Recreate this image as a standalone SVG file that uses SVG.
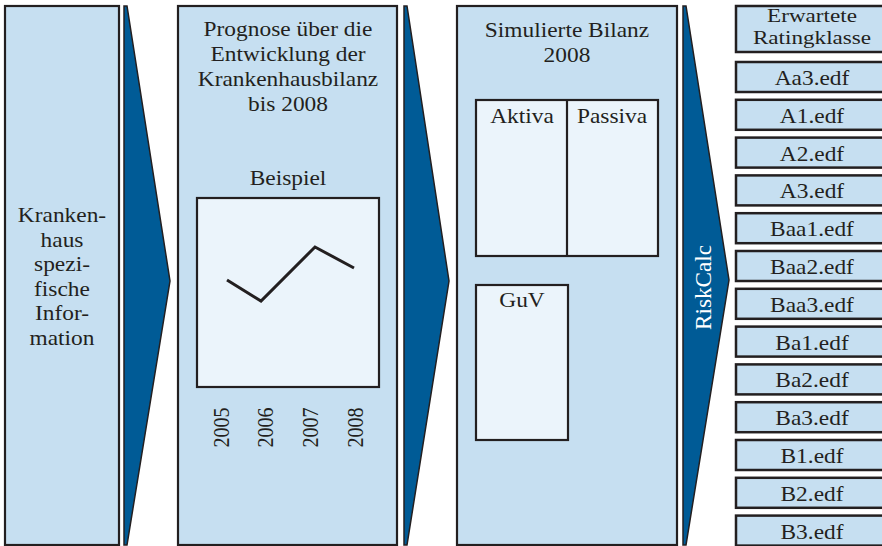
<svg xmlns="http://www.w3.org/2000/svg" width="882" height="546" viewBox="0 0 882 546">
<style>
.panel{fill:#c6dff1;stroke:#231f20;stroke-width:2.2}
.inner{fill:#ebf4fb;stroke:#231f20;stroke-width:2.2}
.arrow{fill:#005b96;stroke:#231f20;stroke-width:1.5;stroke-linejoin:miter}
.box{fill:#c6dff1;stroke:#231f20;stroke-width:2.5}
text{font-family:"Liberation Serif","Times New Roman",serif;font-size:20px;fill:#231f20;text-anchor:middle}
.w{fill:#ffffff}
.hd{font-size:18.5px}
</style>
<rect width="882" height="546" fill="#ffffff"/>
<g id="connectors">
<polygon class="arrow" points="124,6 127,6 170,281 127,545 124,545"/>
<polygon class="arrow" points="404,6 407,6 449,281 407,545 404,545"/>
<g id="riskcalc">
<polygon class="arrow" points="683,6 686,6 729,280 686,545 683,545"/>
<text class="w" transform="translate(711,287.5) scale(1.17,1) rotate(-90)" textLength="85" lengthAdjust="spacingAndGlyphs">RiskCalc</text>
</g>
</g>
<g id="panel1">
<rect class="panel" x="5" y="6" width="114" height="539"/>
<text transform="translate(62,222) scale(1.17,1)">Kranken-</text>
<text transform="translate(62,246.5) scale(1.17,1)">haus</text>
<text transform="translate(62,271) scale(1.17,1)">spezi-</text>
<text transform="translate(62,295.5) scale(1.17,1)">fische</text>
<text transform="translate(62,320) scale(1.17,1)">Infor-</text>
<text transform="translate(62,344.5) scale(1.17,1)">mation</text>
</g>
<g id="panel2">
<rect class="panel" x="178" y="6" width="219" height="539"/>
<text transform="translate(288,36) scale(1.17,1)">Prognose über die</text>
<text transform="translate(288,61) scale(1.17,1)">Entwicklung der</text>
<text transform="translate(288,86) scale(1.17,1)">Krankenhausbilanz</text>
<text transform="translate(288,111) scale(1.17,1)">bis 2008</text>
<text transform="translate(288,185) scale(1.17,1)">Beispiel</text>
<rect class="inner" x="197" y="198" width="182" height="189"/>
<polyline points="227,280 261,301 315,247 354,268" fill="none" stroke="#231f20" stroke-width="3"/>
<text transform="translate(229,427.5) scale(1.2,1) rotate(-90)">2005</text>
<text transform="translate(273,427.5) scale(1.2,1) rotate(-90)">2006</text>
<text transform="translate(318,427.5) scale(1.2,1) rotate(-90)">2007</text>
<text transform="translate(363,427.5) scale(1.2,1) rotate(-90)">2008</text>
</g>
<g id="panel3">
<rect class="panel" x="457" y="6" width="220" height="539"/>
<text transform="translate(567,37) scale(1.17,1)">Simulierte Bilanz</text>
<text transform="translate(567,62) scale(1.17,1)">2008</text>
<rect class="inner" x="476" y="100" width="182" height="156"/>
<line x1="567" y1="100" x2="567" y2="256" stroke="#231f20" stroke-width="2.2"/>
<text transform="translate(522,123) scale(1.17,1)">Aktiva</text>
<text transform="translate(612,123) scale(1.17,1)">Passiva</text>
<rect class="inner" x="476" y="285" width="92" height="155"/>
<text transform="translate(522,307) scale(1.17,1)">GuV</text>
</g>
<g id="header">
<rect class="box" x="736" y="6" width="160" height="46"/>
<text class="hd" transform="translate(812,22) scale(1.25,1)">Erwartete</text>
<text class="hd" transform="translate(812,44) scale(1.25,1)">Ratingklasse</text>
</g>
<g id="r-aa3"><rect class="box" x="736" y="62" width="160" height="30"/><text transform="translate(812,85) scale(1.17,1)">Aa3.edf</text></g>
<g id="r-a1"><rect class="box" x="736" y="99.8" width="160" height="30"/><text transform="translate(812,122.8) scale(1.17,1)">A1.edf</text></g>
<g id="r-a2"><rect class="box" x="736" y="137.6" width="160" height="30"/><text transform="translate(812,160.6) scale(1.17,1)">A2.edf</text></g>
<g id="r-a3"><rect class="box" x="736" y="175.4" width="160" height="30"/><text transform="translate(812,198.4) scale(1.17,1)">A3.edf</text></g>
<g id="r-baa1"><rect class="box" x="736" y="213.2" width="160" height="30"/><text transform="translate(812,236.2) scale(1.17,1)">Baa1.edf</text></g>
<g id="r-baa2"><rect class="box" x="736" y="251" width="160" height="30"/><text transform="translate(812,274) scale(1.17,1)">Baa2.edf</text></g>
<g id="r-baa3"><rect class="box" x="736" y="288.8" width="160" height="30"/><text transform="translate(812,311.8) scale(1.17,1)">Baa3.edf</text></g>
<g id="r-ba1"><rect class="box" x="736" y="326.6" width="160" height="30"/><text transform="translate(812,349.6) scale(1.17,1)">Ba1.edf</text></g>
<g id="r-ba2"><rect class="box" x="736" y="364.4" width="160" height="30"/><text transform="translate(812,387.4) scale(1.17,1)">Ba2.edf</text></g>
<g id="r-ba3"><rect class="box" x="736" y="402.2" width="160" height="30"/><text transform="translate(812,425.2) scale(1.17,1)">Ba3.edf</text></g>
<g id="r-b1"><rect class="box" x="736" y="440" width="160" height="30"/><text transform="translate(812,463) scale(1.17,1)">B1.edf</text></g>
<g id="r-b2"><rect class="box" x="736" y="477.8" width="160" height="30"/><text transform="translate(812,500.8) scale(1.17,1)">B2.edf</text></g>
<g id="r-b3"><rect class="box" x="736" y="515.6" width="160" height="30"/><text transform="translate(812,538.6) scale(1.17,1)">B3.edf</text></g>
</svg>
